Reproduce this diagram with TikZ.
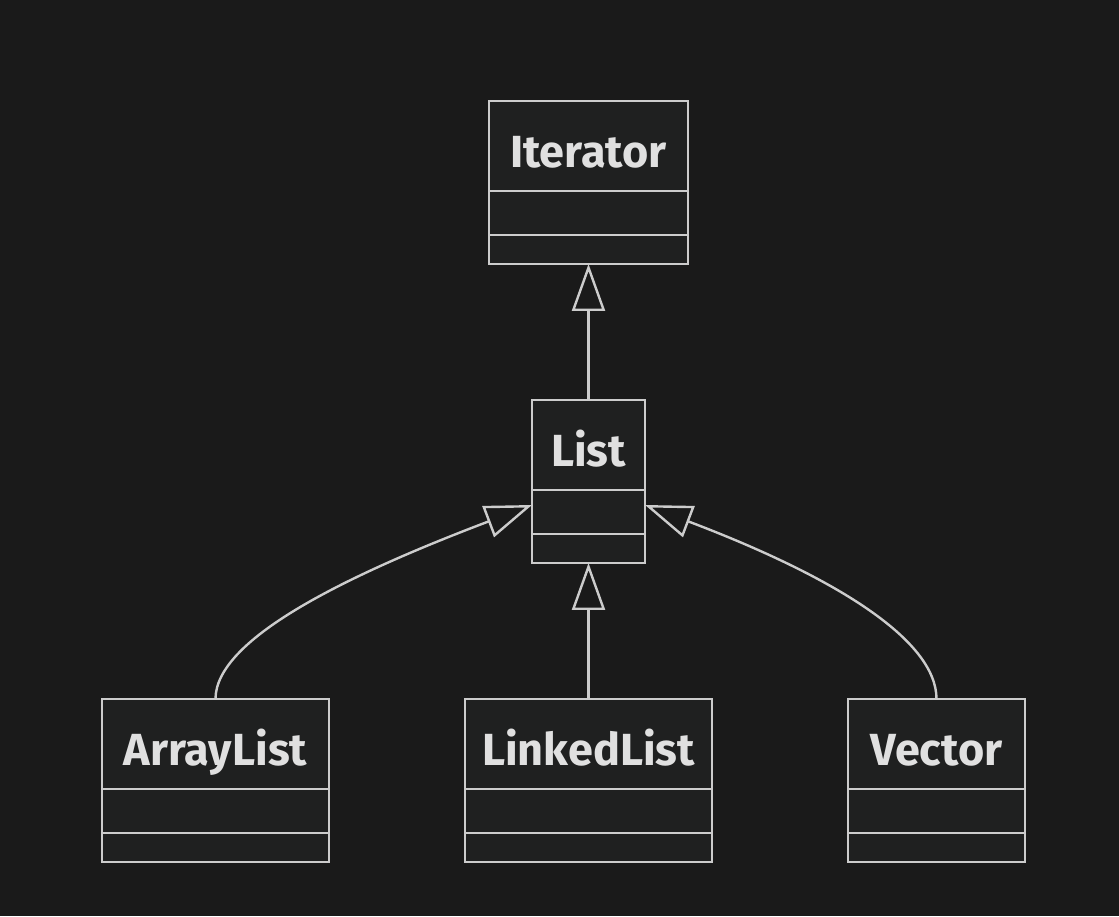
\documentclass[tikz,border=0pt]{standalone}
\usepackage{fontspec}
\setmainfont{Fira Sans}
\usepackage{tikz}
\usetikzlibrary{positioning}
\usetikzlibrary{arrows.meta}
\definecolor{bgcol}{HTML}{1A1A1A}
\definecolor{boxcol}{HTML}{1F2020}
\definecolor{linecol}{HTML}{CCCCCC}
\definecolor{textcol}{HTML}{E0E0E0}
\tikzstyle{cname} = [draw=linecol, fill=boxcol, line width=2.4pt, rectangle, outer sep=0pt, inner sep=0pt, minimum height=90pt, text height=44pt, text depth=0pt, text=textcol, font=\fontsize{45}{54}\selectfont\bfseries]
\tikzstyle{cattr} = [draw=linecol, fill=boxcol, line width=2.4pt, rectangle, outer sep=0pt, inner sep=0pt, minimum height=44pt]
\tikzstyle{cmeth} = [draw=linecol, fill=boxcol, line width=2.4pt, rectangle, outer sep=0pt, inner sep=0pt, minimum height=29pt]
\tikzstyle{inherit} = [draw=linecol, line width=2.4pt, -{Triangle[open, length=47pt, width=33pt]}]
\begin{document}
\begin{tikzpicture}[x=1pt,y=1pt,node distance=136pt]
    \fill[bgcol] (0,0) rectangle (1119,916);
    \useasboundingbox (0,0) rectangle (1119,916);

    \node [cname, minimum width=199pt] (iter) at (588.5,770) {Iterator};
    \node [cattr, minimum width=199pt, below=0pt of iter] (iter-a) {};
    \node [cmeth, minimum width=199pt, below=0pt of iter-a] (iter-m) {};

    \node [cname, minimum width=113pt, below=of iter-m] (list) {List};
    \node [cattr, minimum width=113pt, below=0pt of list] (list-a) {};
    \node [cmeth, minimum width=113pt, below=0pt of list-a] (list-m) {};

    \node [cname, minimum width=247pt, below=of list-m] (linked) {LinkedList};
    \node [cattr, minimum width=247pt, below=0pt of linked] (linked-a) {};
    \node [cmeth, minimum width=247pt, below=0pt of linked-a] (linked-m) {};

    \node [cname, minimum width=227pt, left=of linked] (array) {ArrayList};
    \node [cattr, minimum width=227pt, below=0pt of array] (array-a) {};
    \node [cmeth, minimum width=227pt, below=0pt of array-a] (array-m) {};

    \node [cname, minimum width=177pt, right=of linked] (vector) {Vector};
    \node [cattr, minimum width=177pt, below=0pt of vector] (vector-a) {};
    \node [cmeth, minimum width=177pt, below=0pt of vector-a] (vector-m) {};

    \draw [inherit] (list) -- (iter-m); % generalisation
    \draw [inherit] (linked) -- (list-m);
    \draw [inherit] (array.north) .. controls +(0,59) and +(-190,-72) .. ([yshift=-15pt]list-a.north west);
    \draw [inherit] (vector.north) .. controls +(0,59) and +(190,-72) .. ([yshift=-15pt]list-a.north east);
\end{tikzpicture}
\end{document}
